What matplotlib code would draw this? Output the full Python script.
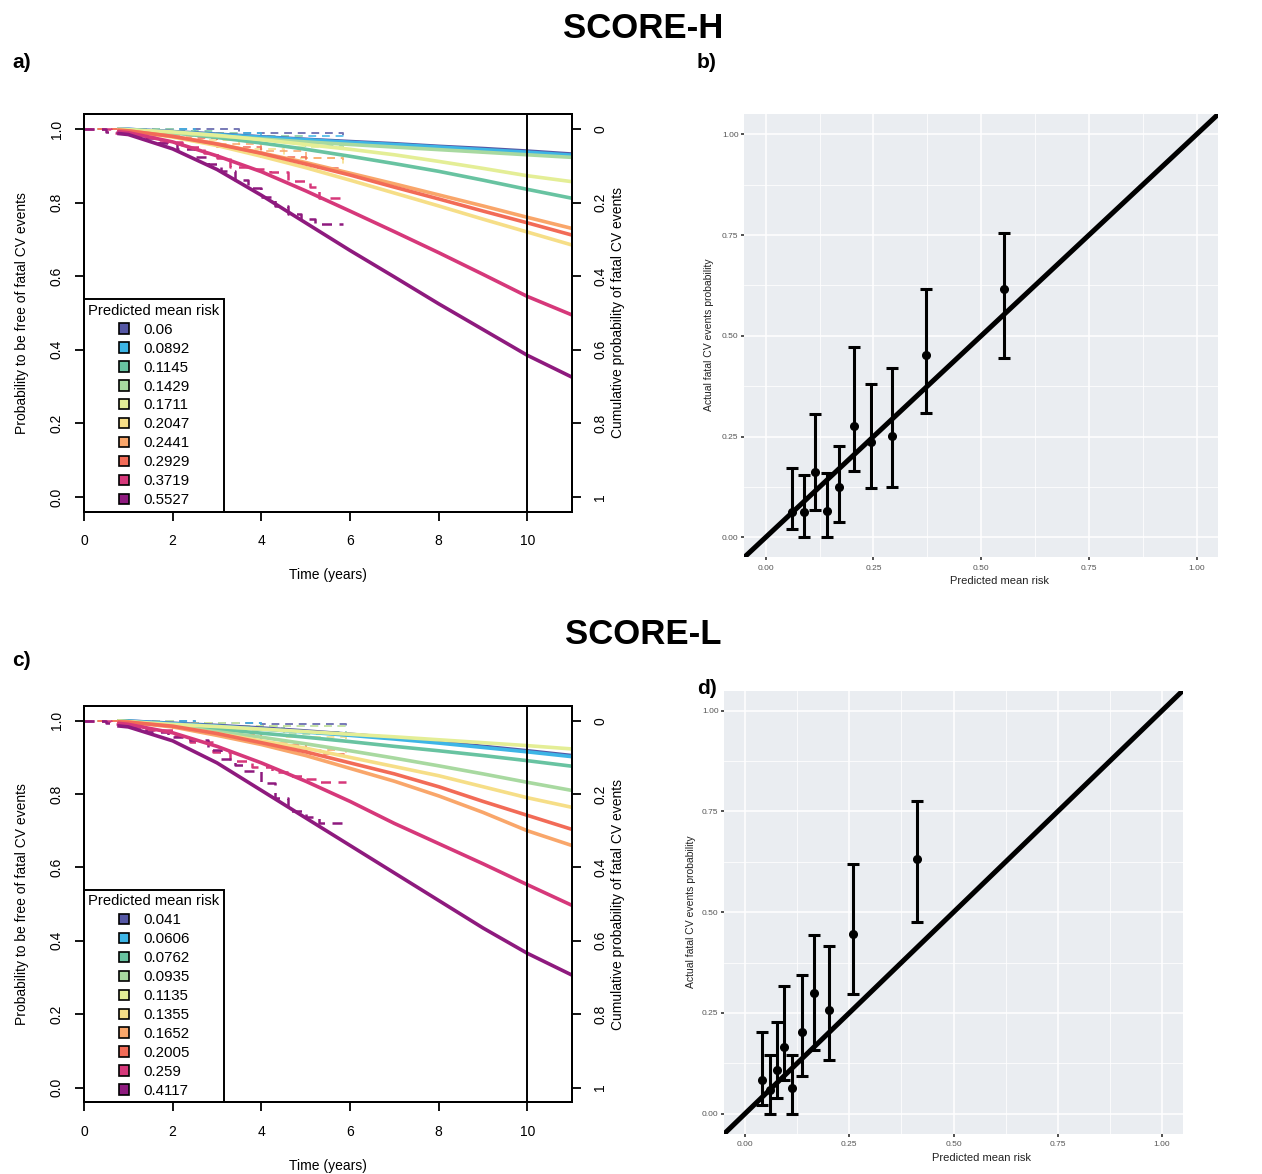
import matplotlib
matplotlib.use("Agg")
import matplotlib.pyplot as plt
from matplotlib.patches import Patch
import numpy as np

plt.rcParams['font.family'] = ['Liberation Sans', 'DejaVu Sans']

# ---------------- data ----------------
time_grid = [0.75, 1, 2, 3, 4, 5, 6, 7, 8, 9, 10, 11]

colors = ['#5557A4', '#3DB5E6', '#68C3A1', '#A8D9A0', '#E4EE96',
          '#F6DE87', '#F9A66A', '#F26B57', '#D6387A', '#8E1A7E']

risk_h = [0.06, 0.0892, 0.1145, 0.1429, 0.1711, 0.2047, 0.2441, 0.2929, 0.3719, 0.5527]
risk_l = [0.041, 0.0606, 0.0762, 0.0935, 0.1135, 0.1355, 0.1652, 0.2005, 0.259, 0.4117]

# predicted survival curves (panel a, SCORE-H)
surv_h = [
    [0.999, 0.999, 0.993, 0.986, 0.979, 0.972, 0.966, 0.960, 0.953, 0.947, 0.940, 0.932],
    [0.999, 0.999, 0.992, 0.985, 0.978, 0.971, 0.964, 0.958, 0.951, 0.944, 0.937, 0.929],
    [0.998, 0.997, 0.990, 0.977, 0.962, 0.945, 0.926, 0.906, 0.885, 0.861, 0.836, 0.812],
    [0.999, 0.998, 0.990, 0.981, 0.973, 0.965, 0.958, 0.951, 0.944, 0.937, 0.930, 0.923],
    [0.999, 0.998, 0.992, 0.983, 0.971, 0.958, 0.945, 0.930, 0.912, 0.893, 0.873, 0.857],
    [0.997, 0.995, 0.978, 0.955, 0.926, 0.895, 0.861, 0.826, 0.791, 0.755, 0.720, 0.685],
    [0.997, 0.995, 0.980, 0.960, 0.935, 0.909, 0.880, 0.851, 0.821, 0.791, 0.760, 0.730],
    [0.997, 0.995, 0.980, 0.959, 0.934, 0.905, 0.875, 0.842, 0.810, 0.777, 0.745, 0.712],
    [0.993, 0.990, 0.965, 0.927, 0.884, 0.832, 0.777, 0.721, 0.664, 0.605, 0.545, 0.495],
    [0.988, 0.985, 0.946, 0.890, 0.820, 0.745, 0.670, 0.598, 0.525, 0.455, 0.385, 0.326],
]

# predicted survival curves (panel c, SCORE-L)
surv_l = [
    [0.999, 0.999, 0.993, 0.987, 0.980, 0.972, 0.963, 0.953, 0.942, 0.930, 0.918, 0.905],
    [0.999, 0.999, 0.992, 0.985, 0.977, 0.969, 0.960, 0.950, 0.939, 0.927, 0.915, 0.902],
    [0.999, 0.998, 0.988, 0.977, 0.966, 0.955, 0.943, 0.930, 0.918, 0.905, 0.891, 0.876],
    [0.998, 0.997, 0.985, 0.970, 0.955, 0.937, 0.918, 0.898, 0.877, 0.855, 0.832, 0.810],
    [0.999, 0.997, 0.990, 0.984, 0.977, 0.970, 0.963, 0.956, 0.948, 0.940, 0.932, 0.923],
    [0.998, 0.997, 0.985, 0.965, 0.945, 0.925, 0.900, 0.875, 0.850, 0.820, 0.790, 0.764],
    [0.997, 0.996, 0.983, 0.960, 0.935, 0.905, 0.870, 0.835, 0.795, 0.750, 0.700, 0.660],
    [0.997, 0.996, 0.985, 0.965, 0.940, 0.915, 0.885, 0.855, 0.820, 0.780, 0.742, 0.704],
    [0.993, 0.990, 0.967, 0.930, 0.885, 0.835, 0.780, 0.720, 0.665, 0.610, 0.553, 0.497],
    [0.986, 0.983, 0.945, 0.885, 0.810, 0.735, 0.660, 0.585, 0.510, 0.435, 0.366, 0.307],
]

# observed Kaplan-Meier step curves (dashed)
km_h_times = [
    [0, 2.0, 3.5, 5.85],
    [0, 2.5, 4.0, 5.85],
    [0, 1.5, 3.0, 4.2, 5.0, 5.85],
    [0, 2.0, 3.5, 5.0, 5.85],
    [0, 1.5, 3.0, 4.5, 5.85],
    [0, 1.2, 2.5, 3.5, 4.5, 5.85],
    [0, 1.0, 2.0, 3.0, 4.0, 5.0, 5.85],
    [0, 1.0, 2.0, 3.0, 4.0, 5.0, 5.85],
    [0, 0.6, 1.2, 1.7, 2.2, 2.7, 3.0, 3.3, 3.8, 4.2, 4.6, 5.1, 5.3, 5.85],
    [0, 0.5, 0.9, 1.3, 1.7, 2.1, 2.5, 2.8, 3.1, 3.4, 3.7, 4.0, 4.3, 4.6, 4.9, 5.2, 5.85],
]
km_h_surv = [
    [1.0, 1.0, 0.99, 0.985],
    [1.0, 0.99, 0.98, 0.975],
    [1.0, 0.995, 0.98, 0.965, 0.955, 0.95],
    [1.0, 0.99, 0.98, 0.97, 0.965],
    [1.0, 0.99, 0.97, 0.95, 0.94],
    [1.0, 0.99, 0.97, 0.945, 0.92, 0.90],
    [1.0, 0.995, 0.98, 0.96, 0.94, 0.92, 0.915],
    [1.0, 0.99, 0.975, 0.95, 0.925, 0.895, 0.89],
    [1.0, 0.99, 0.978, 0.965, 0.952, 0.935, 0.92, 0.898, 0.89, 0.884, 0.86, 0.843, 0.813, 0.813],
    [1.0, 0.993, 0.985, 0.975, 0.962, 0.945, 0.925, 0.905, 0.885, 0.862, 0.84, 0.815, 0.79,
     0.77, 0.755, 0.741, 0.741],
]
km_l_times = [
    [0, 2.5, 4.0, 5.9],
    [0, 2.5, 4.0, 5.9],
    [0, 1.5, 3.0, 4.5, 5.9],
    [0, 1.5, 3.0, 4.5, 5.9],
    [0, 2.0, 3.5, 5.9],
    [0, 1.5, 3.0, 4.5, 5.9],
    [0, 1.0, 2.0, 3.0, 4.0, 5.0, 5.9],
    [0, 1.0, 2.0, 3.0, 4.0, 5.0, 5.9],
    [0, 0.6, 1.4, 2.0, 2.4, 2.9, 3.3, 3.8, 4.25, 4.6, 5.0, 5.3, 5.9],
    [0, 0.5, 0.9, 1.4, 1.9, 2.4, 2.8, 3.1, 3.4, 3.6, 4.0, 4.3, 4.6, 5.0, 5.3, 5.9],
]
km_l_surv = [
    [1.0, 0.995, 0.99, 0.985],
    [1.0, 0.995, 0.985, 0.98],
    [1.0, 0.995, 0.985, 0.97, 0.96],
    [1.0, 0.995, 0.98, 0.965, 0.95],
    [1.0, 0.995, 0.985, 0.975],
    [1.0, 0.99, 0.975, 0.955, 0.94],
    [1.0, 0.995, 0.98, 0.96, 0.94, 0.92, 0.91],
    [1.0, 0.995, 0.98, 0.96, 0.935, 0.91, 0.9],
    [1.0, 0.99, 0.975, 0.958, 0.941, 0.915, 0.891, 0.875, 0.859, 0.85, 0.84, 0.832, 0.832],
    [1.0, 0.993, 0.983, 0.97, 0.955, 0.946, 0.92, 0.896, 0.88, 0.864, 0.83, 0.79, 0.755,
     0.737, 0.72, 0.712],
]

# calibration (panel b)
obs_h = [0.064, 0.064, 0.163, 0.065, 0.126, 0.275, 0.236, 0.251, 0.452, 0.616]
lo_h = [0.020, 0.000, 0.068, 0.000, 0.037, 0.165, 0.123, 0.126, 0.308, 0.445]
hi_h = [0.171, 0.155, 0.305, 0.159, 0.227, 0.471, 0.380, 0.419, 0.616, 0.754]

# calibration (panel d)
obs_l = [0.084, 0.060, 0.108, 0.166, 0.065, 0.203, 0.299, 0.257, 0.446, 0.633]
lo_l = [0.022, 0.000, 0.038, 0.084, 0.000, 0.093, 0.158, 0.133, 0.296, 0.475]
hi_l = [0.202, 0.146, 0.228, 0.317, 0.146, 0.345, 0.443, 0.416, 0.620, 0.775]

surv_ticks = [0.0, 0.2, 0.4, 0.6, 0.8, 1.0]
surv_ticklabels = ['0.0', '0.2', '0.4', '0.6', '0.8', '1.0']
cum_ticklabels = ['0', '0.2', '0.4', '0.6', '0.8', '1']
year_ticks = [0, 2, 4, 6, 8, 10]
cal_ticks = [0.0, 0.25, 0.5, 0.75, 1.0]
cal_ticklabels = ['0.00', '0.25', '0.50', '0.75', '1.00']

W, H = 1262, 1174
fig = plt.figure(figsize=(W / 100, H / 100), dpi=100)


def fx(px):
    return px / W


def fy(py):
    return 1 - py / H


def surv_panel(rect, surv, km_t, km_s, risks):
    ax = fig.add_axes(rect)
    for i in range(len(surv)):
        strong = i >= 8
        ax.step(km_t[i], km_s[i], where='post', color=colors[i],
                lw=1.8 if strong else 1.4, dashes=(4, 3), zorder=2,
                alpha=1.0 if strong else 0.8)
    for i in range(len(surv)):
        ax.plot(time_grid, surv[i], color=colors[i], lw=2.6, zorder=3,
                solid_capstyle='butt')
    ax.axvline(10, color='black', lw=1.4, zorder=4)
    ax.set_xlim(0, 11)
    ax.set_ylim(-0.04, 1.04)
    for s in ax.spines.values():
        s.set_linewidth(1.4)
    ax.set_xticks(year_ticks)
    ax.set_xticklabels([str(t) for t in year_ticks], fontsize=10)
    ax.set_yticks(surv_ticks)
    ax.set_yticklabels(surv_ticklabels, fontsize=10, rotation=90, va='center')
    ax.tick_params(axis='both', direction='out', length=6.5, width=1.3, pad=8)
    ax.tick_params(axis='x', pad=9.5)
    ax2 = ax.twinx()
    ax2.set_ylim(1.04, -0.04)
    ax2.set_yticks(surv_ticks)
    ax2.set_yticklabels(cum_ticklabels, fontsize=10, rotation=90, va='center')
    ax2.tick_params(axis='y', direction='out', length=6.5, width=1.3, pad=9)
    for s in ax2.spines.values():
        s.set_linewidth(1.4)
    handles = [Patch(facecolor=colors[i], edgecolor='black', lw=1.2,
                     label=str(risks[i])) for i in range(len(risks))]
    leg = ax.legend(handles=handles, title='Predicted mean risk', loc='lower left',
                    bbox_to_anchor=(0, 0), borderaxespad=0, fontsize=10.8,
                    title_fontsize=10.6, fancybox=False, framealpha=1,
                    edgecolor='black', handlelength=0.7, handleheight=0.7,
                    handletextpad=0.9, labelspacing=0.33, borderpad=0.3)
    leg.get_frame().set_linewidth(1.4)
    leg.set_zorder(10)
    return ax


def cal_panel(rect, risks, obs, lo, hi):
    ax = fig.add_axes(rect)
    ax.set_facecolor('#EAEDF1')
    ax.set_xlim(-0.05, 1.05)
    ax.set_ylim(-0.05, 1.05)
    ax.set_xticks(cal_ticks)
    ax.set_yticks(cal_ticks)
    ax.set_xticks([0.125, 0.375, 0.625, 0.875], minor=True)
    ax.set_yticks([0.125, 0.375, 0.625, 0.875], minor=True)
    ax.grid(True, which='major', color='white', lw=1.1)
    ax.grid(True, which='minor', color='white', lw=0.55)
    ax.set_axisbelow(True)
    for s in ax.spines.values():
        s.set_visible(False)
    ax.set_xticklabels(cal_ticklabels, fontsize=6, color='#555555')
    ax.set_yticklabels(cal_ticklabels, fontsize=6, color='#555555')
    ax.tick_params(axis='both', which='major', length=2, width=1.2, color='#333333', pad=2)
    ax.tick_params(axis='x', which='major', pad=3.5)
    ax.tick_params(axis='both', which='minor', length=0)
    ax.axline((0, 0), slope=1, color='black', lw=3.6, zorder=3)
    yerr = [np.array(obs) - np.array(lo), np.array(hi) - np.array(obs)]
    ax.errorbar(risks, obs, yerr=yerr, fmt='o', color='black', ms=5.5,
                elinewidth=2.2, capsize=4.5, capthick=2.2, zorder=4)
    return ax


# panel a
ax_a = surv_panel([fx(84), fy(511.7), fx(571.7 - 84), (511.7 - 114.3) / H],
                  surv_h, km_h_times, km_h_surv, risk_h)
# panel c
ax_c = surv_panel([fx(84), fy(1102.3), fx(571.7 - 84), (1102.3 - 706) / H],
                  surv_l, km_l_times, km_l_surv, risk_l)

for py_mid, py_xl in [(313, 575), (904, 1166)]:
    fig.text(fx(22), fy(py_mid), 'Probability to be free of fatal CV events',
             rotation=90, ha='center', va='center', fontsize=10)
    fig.text(fx(618), fy(py_mid), 'Cumulative probability of fatal CV events',
             rotation=90, ha='center', va='center', fontsize=10)
    fig.text(fx(328), fy(py_xl), 'Time (years)', ha='center', va='center', fontsize=10)

# panel b
ax_b = cal_panel([fx(744.15), fy(557.45), fx(474.1), 443.3 / H], risk_h, obs_h, lo_h, hi_h)
fig.text(fx(709), fy(335), 'Actual fatal CV events probability', rotation=90,
         ha='center', va='center', fontsize=7.5, color='#222222')
fig.text(fx(1000), fy(581), 'Predicted mean risk', ha='center', va='center',
         fontsize=8, color='#222222')

# panel d
ax_d = cal_panel([fx(724.15), fy(1133.85), fx(458.7), 443.3 / H], risk_l, obs_l, lo_l, hi_l)
fig.text(fx(691), fy(912), 'Actual fatal CV events probability', rotation=90,
         ha='center', va='center', fontsize=7.5, color='#222222')
fig.text(fx(982), fy(1158), 'Predicted mean risk', ha='center', va='center',
         fontsize=8, color='#222222')

# titles and panel letters
fig.text(fx(643), fy(28), 'SCORE-H', ha='center', va='center', fontsize=25, fontweight='bold')
fig.text(fx(643), fy(634), 'SCORE-L', ha='center', va='center', fontsize=25, fontweight='bold')
fig.text(fx(12), fy(62), 'a)', ha='left', va='center', fontsize=15, fontweight='bold')
fig.text(fx(697), fy(62), 'b)', ha='left', va='center', fontsize=15, fontweight='bold')
fig.text(fx(12), fy(660), 'c)', ha='left', va='center', fontsize=15, fontweight='bold')
fig.text(fx(697), fy(688), 'd)', ha='left', va='center', fontsize=15, fontweight='bold')

fig.savefig('out.png', dpi=100)
